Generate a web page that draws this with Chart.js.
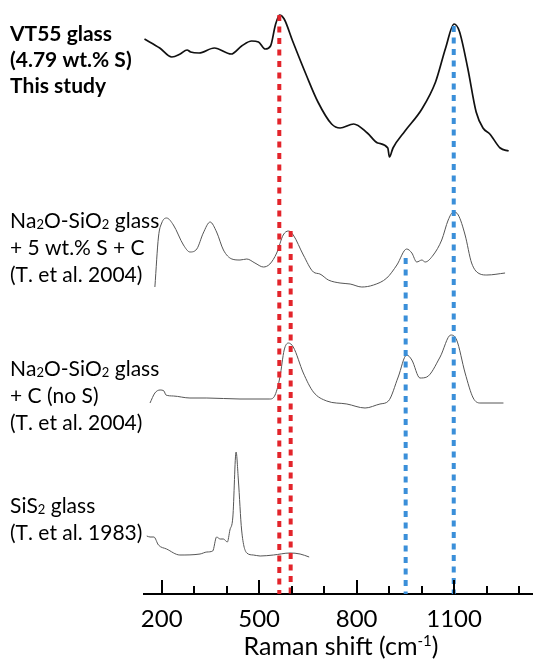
<!DOCTYPE html>
<html>
<head>
<meta charset="utf-8">
<script src="https://cdn.jsdelivr.net/npm/chart.js@4.4.1/dist/chart.umd.min.js"></script>
<style>
html, body { margin: 0; padding: 0; background: #fff; }
#wrap { width: 533px; height: 659px; }
</style>
</head>
<body>
<div id="wrap"><canvas id="ramanChart"></canvas></div>
<script>
// Raman shift (cm-1) and stacked intensity (arb. units, offset per spectrum)
const vt55Shift = [147, 194, 231, 257, 278, 289, 315, 362, 414, 446, 477, 498, 519, 535, 550, 563, 577, 603, 645, 681, 723, 749, 791, 833, 865, 896, 901, 912, 949, 1001, 1043, 1074, 1100, 1116, 1142, 1168, 1189, 1210, 1242, 1268];
const vt55Int   = [555, 546, 537, 540, 544, 542, 541, 546, 540, 548, 553, 552, 545, 548, 569, 579, 575, 553, 519, 492, 470, 466, 470, 461, 451, 446, 437, 446, 463, 485, 512, 546, 570, 563, 526, 482, 466, 460, 446, 443];

const naSShift = [179, 190, 200, 215, 236, 267, 287, 308, 328, 349, 369, 390, 416, 441, 462, 487, 513, 533, 554, 574, 590, 605, 636, 667, 687, 713, 749, 780, 816, 852, 893, 924, 954, 970, 985, 1001, 1011, 1036, 1062, 1082, 1098, 1113, 1134, 1154, 1180, 1201, 1257];
const naSInt   = [307, 357, 371, 376, 369, 349, 342, 345, 361, 372, 362, 344, 335, 334, 335, 331, 327, 330, 341, 359, 363, 359, 339, 322, 320, 314, 311, 310, 307, 309, 316, 329, 345, 341, 332, 334, 332, 339, 354, 374, 382, 379, 359, 331, 320, 319, 321];

const naCShift = [164, 179, 195, 207, 213, 236, 287, 339, 441, 533, 549, 564, 577, 590, 605, 636, 667, 708, 770, 826, 872, 898, 928, 954, 970, 995, 1016, 1057, 1090, 1108, 1134, 1159, 1180, 1252];
const naCInt   = [191, 201, 204, 203, 199, 198, 196, 196, 195, 195, 199, 217, 244, 251, 247, 221, 202, 193, 190, 186, 190, 193, 217, 239, 234, 216, 217, 237, 259, 254, 221, 196, 191, 191];

const sis2Shift = [154, 164, 176, 190, 215, 256, 318, 339, 357, 369, 380, 390, 402, 410, 419, 429, 436, 446, 462, 482, 503, 544, 595, 626, 654];
const sis2Int   = [58, 57, 57, 49, 45, 39, 40, 42, 43, 57, 55, 55, 52, 64, 77, 142, 114, 64, 41, 39, 38, 39, 41, 40, 37];

// dotted band markers: position and top of each line
const redBands  = [562, 597];
const redTops   = [579, 363];
const blueBands = [951, 1099];
const blueTops  = [336, 568];

const majorTicks = [200, 500, 800, 1100];
const minorTicks = [300, 400, 600, 700, 900, 1000, 1200, 1300];

const labelBlocks = [
  { lines: ['VT55 glass', '(4.79 wt.% S)', 'This study'], bold: true, base: 41, step: 26 },
  { lines: ['Na₂O-SiO₂ glass', '+ 5 wt.% S + C', '(T. et al. 2004)'], base: 228, step: 27 },
  { lines: ['Na₂O-SiO₂ glass', '+ C (no S)', '(T. et al. 2004)'], base: 376, step: 27 },
  { lines: ['SiS₂ glass', '(T. et al. 1983)'], base: 513, step: 27 }
];

const FONT = 'Lato, "Open Sans", sans-serif';

const toXY = (xs, ys) => xs.map((x, i) => ({ x: x, y: ys[i] }));

function spectrum(xs, ys, color, width) {
  return {
    data: toXY(xs, ys),
    borderColor: color,
    borderWidth: width,
    pointRadius: 0,
    cubicInterpolationMode: 'monotone',
    fill: false,
    order: 2
  };
}

function bandLines(pos, tops, color) {
  return pos.map((p, i) => ({
    data: [{ x: p, y: tops[i] }, { x: p, y: 0 }],
    borderColor: color,
    borderWidth: 4,
    borderDash: [6, 5.5],
    borderCapStyle: 'butt',
    pointRadius: 0,
    fill: false,
    order: 1
  }));
}

// draws a string, rendering ₂ as a small lowered 2
function drawRich(ctx, text, x, y, size, weight) {
  let cx = x;
  for (const ch of text) {
    if (ch === '₂') {
      ctx.font = weight + ' ' + Math.round(size * 0.62) + 'px ' + FONT;
      ctx.fillText('2', cx, y + 1);
      cx += ctx.measureText('2').width;
    } else {
      ctx.font = weight + ' ' + size + 'px ' + FONT;
      ctx.fillText(ch, cx, y);
      cx += ctx.measureText(ch).width;
    }
  }
}

const decorations = {
  id: 'decorations',
  afterDraw(chart) {
    const ctx = chart.ctx;
    const xs = chart.scales.x;
    const bottom = chart.chartArea.bottom;
    ctx.save();
    // inward tick marks
    ctx.strokeStyle = '#000';
    ctx.lineWidth = 2;
    const marks = majorTicks.map(v => [v, 14]).concat(minorTicks.map(v => [v, 8]));
    marks.forEach(([v, len]) => {
      const px = Math.round(xs.getPixelForValue(v));
      ctx.beginPath();
      ctx.moveTo(px, bottom);
      ctx.lineTo(px, bottom - len);
      ctx.stroke();
    });
    // spectrum labels
    ctx.fillStyle = '#000';
    ctx.textBaseline = 'alphabetic';
    ctx.textAlign = 'left';
    labelBlocks.forEach(b => {
      b.lines.forEach((line, i) => {
        drawRich(ctx, line, 10, b.base + i * b.step, b.bold ? 21 : 21, b.bold ? 'bold' : 'normal');
      });
    });
    // axis title with superscript
    const main = 'Raman shift (cm';
    ctx.font = 'normal 25px ' + FONT;
    const w1 = ctx.measureText(main).width;
    ctx.font = 'normal 15px ' + FONT;
    const w2 = ctx.measureText('-1').width;
    ctx.font = 'normal 25px ' + FONT;
    const w3 = ctx.measureText(')').width;
    let tx = 341 - (w1 + w2 + w3) / 2;
    const ty = 655;
    ctx.fillText(main, tx, ty);
    tx += w1;
    ctx.font = 'normal 15px ' + FONT;
    ctx.fillText('-1', tx, ty - 9);
    tx += w2;
    ctx.font = 'normal 25px ' + FONT;
    ctx.fillText(')', tx, ty);
    ctx.restore();
  }
};

new Chart(document.getElementById('ramanChart'), {
  type: 'line',
  data: {
    datasets: [
      spectrum(vt55Shift, vt55Int, '#111', 1.7),
      spectrum(naSShift, naSInt, '#555', 1),
      spectrum(naCShift, naCInt, '#555', 1),
      spectrum(sis2Shift, sis2Int, '#555', 1)
    ].concat(bandLines(redBands, redTops, '#e3242b'), bandLines(blueBands, blueTops, '#3a8fd9'))
  },
  options: {
    responsive: true,
    maintainAspectRatio: false,
    animation: false,
    layout: { padding: { left: 144, right: 0, top: 0, bottom: 0 } },
    plugins: { legend: { display: false }, tooltip: { enabled: false } },
    scales: {
      x: {
        type: 'linear',
        min: 145.5,
        max: 1343,
        afterFit: s => { s.height = 65; },
        afterBuildTicks: s => {
          s.ticks = majorTicks.concat(minorTicks).sort((a, b) => a - b).map(v => ({ value: v }));
        },
        ticks: {
          autoSkip: false,
          maxRotation: 0,
          padding: 11,
          color: '#000',
          font: { family: FONT, size: 24 },
          callback: v => majorTicks.includes(v) ? String(v) : ''
        },
        grid: { display: false, drawTicks: false },
        border: { display: true, color: '#000', width: 2 }
      },
      y: {
        display: false,
        min: 0,
        max: 594
      }
    }
  },
  plugins: [decorations]
});
</script>
</body>
</html>
